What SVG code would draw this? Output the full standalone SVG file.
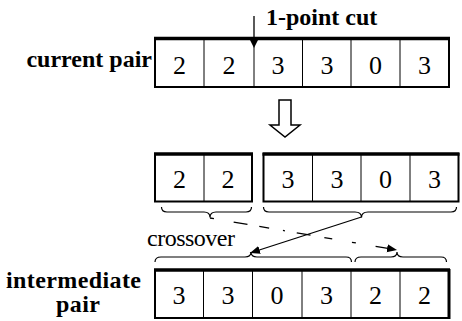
<svg xmlns="http://www.w3.org/2000/svg" width="462" height="321" viewBox="0 0 462 321">
<style>
text{font-family:'Liberation Serif','Times New Roman','DejaVu Serif',Times,serif}
.lbl{font-weight:bold;font-size:24px;fill:#000}
.dig{font-size:26px;fill:#000;text-anchor:middle}
.reg{font-size:24px;fill:#000}
.box{fill:#fff;stroke:#000;stroke-width:2}
.div{stroke:#000;stroke-width:1}
.top{stroke:#000;stroke-width:3.5}
.brace{fill:none;stroke:#000;stroke-width:1.2}
.conn{fill:none;stroke:#000;stroke-width:1.3}
</style>
<defs>
<marker id="ah" viewBox="0 0 10 10" refX="10" refY="5" markerWidth="10" markerHeight="10" markerUnits="userSpaceOnUse" orient="auto">
<path d="M0,1 L10,5 L0,9 Z" fill="#000"/>
</marker>
</defs>

<g id="current-pair">
<rect class="box" x="155" y="38.5" width="294" height="48.5"/>
<line class="top" x1="154" y1="38.5" x2="450" y2="38.5"/>
<line class="div" x1="204" y1="38.5" x2="204" y2="87"/>
<line class="div" x1="254" y1="38.5" x2="254" y2="87" stroke-width="2"/>
<line class="div" x1="302.5" y1="38.5" x2="302.5" y2="87"/>
<line class="div" x1="351" y1="38.5" x2="351" y2="87"/>
<line class="div" x1="400" y1="38.5" x2="400" y2="87"/>
<text class="dig" x="179.5" y="74">2</text>
<text class="dig" x="229" y="74">2</text>
<text class="dig" x="278" y="74">3</text>
<text class="dig" x="327" y="74">3</text>
<text class="dig" x="375.5" y="74">0</text>
<text class="dig" x="424.5" y="74">3</text>
<text class="lbl" x="152" y="67" text-anchor="end">current pair</text>
</g>

<g id="cut-label">
<text class="lbl" x="266" y="25">1-point cut</text>
</g>

<g id="left-part">
<rect class="box" x="155" y="154" width="97" height="47.5"/>
<line class="top" x1="154" y1="154" x2="253" y2="154"/>
<line class="div" x1="204" y1="154" x2="204" y2="201.5"/>
<text class="dig" x="179.5" y="188">2</text>
<text class="dig" x="228" y="188">2</text>
</g>

<g id="right-part">
<rect class="box" x="263.5" y="154" width="195" height="47.5"/>
<line class="top" x1="262.5" y1="154" x2="459.5" y2="154"/>
<line class="div" x1="312.5" y1="154" x2="312.5" y2="201.5"/>
<line class="div" x1="361" y1="154" x2="361" y2="201.5"/>
<line class="div" x1="410" y1="154" x2="410" y2="201.5"/>
<text class="dig" x="288" y="188">3</text>
<text class="dig" x="337" y="188">3</text>
<text class="dig" x="385.5" y="188">0</text>
<text class="dig" x="434.5" y="188">3</text>
</g>

<g id="intermediate-pair">
<rect class="box" x="155" y="270" width="294" height="48"/>
<line class="top" x1="154" y1="270" x2="450" y2="270" stroke-width="2.5"/>
<line class="div" x1="203.5" y1="270" x2="203.5" y2="318"/>
<line class="div" x1="252.5" y1="270" x2="252.5" y2="318"/>
<line class="div" x1="302" y1="270" x2="302" y2="318"/>
<line class="div" x1="351" y1="270" x2="351" y2="318"/>
<line class="div" x1="400" y1="270" x2="400" y2="318"/>
<line x1="449" y1="269" x2="449" y2="319" stroke="#000" stroke-width="3"/>
<text class="dig" x="179" y="304">3</text>
<text class="dig" x="228" y="304">3</text>
<text class="dig" x="277" y="304">0</text>
<text class="dig" x="326.5" y="304">3</text>
<text class="dig" x="375.5" y="304">2</text>
<text class="dig" x="424.5" y="304">2</text>
<text class="lbl" x="6" y="288" textLength="135">intermediate</text>
<text class="lbl" x="56" y="312" textLength="44">pair</text>
</g>

<g id="crossover-label">
<text class="reg" x="147" y="246" textLength="88">crossover</text>
</g>

<g id="connectors">
<line class="conn" x1="254" y1="16" x2="254" y2="40"/>
<path d="M249.5,39 L258.5,39 L254,48 Z" fill="#000"/>
<polygon points="279,100 291,100 291,125 300,125 285,137 270,125 279,125" fill="#fff" stroke="#000" stroke-width="1.5"/>
<path class="brace" d="M161.5,207 Q161.5,212 167,212 L204,212 Q210,212 210,217.5 Q210,212 216,212 L246,212 Q251.5,212 251.5,207"/>
<path class="brace" d="M263.5,207 Q263.5,212 269,212 L355,212 Q361.5,212 361.5,217.5 Q361.5,212 368,212 L451,212 Q456.5,212 456.5,207"/>
<path class="brace" d="M155,262 Q155,257 161,257 L245,257 Q251,257 251,252 Q251,257 257,257 L346,257 Q351.5,257 351.5,262"/>
<path class="brace" d="M355,262 Q355,257 361,257 L391,257 Q397,257 397,252 Q397,257 403,257 L441,257 Q446.5,257 446.5,262"/>
<line class="conn" x1="361.5" y1="217" x2="250" y2="253" marker-end="url(#ah)"/>
<line class="conn" x1="210" y1="218" x2="397" y2="250" stroke-dasharray="4 20 14 12 10 14 2 12 14 14 8 20" marker-end="url(#ah)"/>
</g>
</svg>
